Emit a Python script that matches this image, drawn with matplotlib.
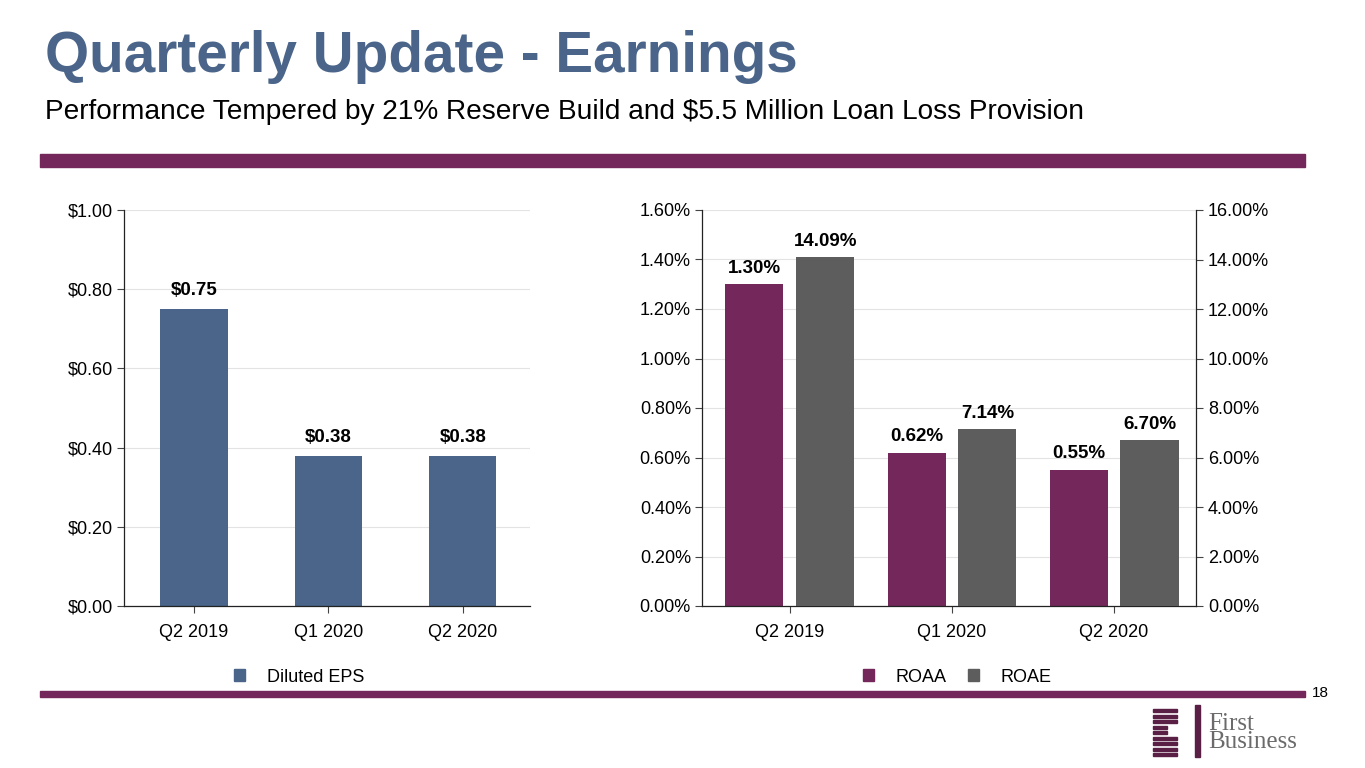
import matplotlib.pyplot as plt
import matplotlib.patches as mpatches
import numpy as np

plt.rcParams['font.family'] = ['Liberation Sans', 'DejaVu Sans']

quarters = ['Q2 2019', 'Q1 2020', 'Q2 2020']
eps = [0.75, 0.38, 0.38]
roaa = [1.30, 0.62, 0.55]
roae = [14.09, 7.14, 6.70]

BLUE = '#4a6589'
PURPLE = '#73275a'
GREY = '#5d5d5d'
GRID = '#e3e3e3'
W, H = 1365, 768


def px_axes(fig, x0, y0, x1, y1):
    # pixel box (top-left origin) -> figure axes
    return fig.add_axes([x0 / W, 1 - y1 / H, (x1 - x0) / W, (y1 - y0) / H])


def style_axes(ax):
    ax.grid(axis='y', color=GRID, linewidth=0.8)
    ax.set_axisbelow(True)
    ax.spines['top'].set_visible(False)
    ax.spines['right'].set_visible(False)
    for s in ('left', 'bottom'):
        ax.spines[s].set_color('#222222')
        ax.spines[s].set_linewidth(0.9)
    ax.tick_params(axis='both', labelsize=13, color='#444444', length=5,
                   width=0.8, pad=3)
    ax.tick_params(axis='x', pad=8)


fig = plt.figure(figsize=(13.65, 7.68), dpi=100)

# header
fig.text(45 / W, 1 - 57 / H, 'Quarterly Update - Earnings', fontsize=40.8,
         fontweight='bold', color='#4a6589', va='center', ha='left')
fig.text(45 / W, 1 - 112 / H,
         'Performance Tempered by 21% Reserve Build and $5.5 Million Loan Loss Provision',
         fontsize=20.2, color='black', va='center', ha='left')
fig.patches.append(mpatches.Rectangle((40 / W, 1 - 167 / H), 1265 / W, 13 / H,
                                      transform=fig.transFigure, color=PURPLE))
fig.patches.append(mpatches.Rectangle((40 / W, 1 - 697 / H), 1265 / W, 6 / H,
                                      transform=fig.transFigure, color=PURPLE))
fig.text(1320 / W, 1 - 693 / H, '18', fontsize=11, ha='center', va='center')

# left chart: diluted EPS
ax1 = px_axes(fig, 124, 210, 530, 606)
style_axes(ax1)
x = np.arange(len(quarters))
ax1.bar(x, eps, width=0.5, color=BLUE)
ax1.set_xlim(-0.52, 2.5)
ax1.set_ylim(0, 1.0)
ax1.set_yticks(np.arange(0, 1.01, 0.2))
ax1.set_yticklabels([f'${v:.2f}' for v in np.arange(0, 1.01, 0.2)])
ax1.set_xticks(x)
ax1.set_xticklabels(quarters)
for xi, v in zip(x, eps):
    ax1.text(xi, v + 0.025, f'${v:.2f}', ha='center', va='bottom',
             fontsize=13.5, fontweight='bold')

# right chart: ROAA / ROAE
ax2 = px_axes(fig, 702, 210, 1196, 606)
style_axes(ax2)
ax2.set_xlim(-0.543, 2.506)
ax2.set_ylim(0, 1.6)
ax2.set_yticks(np.arange(0, 1.61, 0.2))
ax2.set_yticklabels([f'{v:.2f}%' for v in np.arange(0, 1.61, 0.2)])
ax2.set_xticks(x)
ax2.set_xticklabels(quarters)
ax3 = ax2.twinx()
ax3.set_ylim(0, 16)
ax3.set_yticks(np.arange(0, 16.1, 2))
ax3.set_yticklabels([f'{v:.2f}%' for v in np.arange(0, 16.1, 2)])
ax3.tick_params(axis='y', labelsize=13, color='#444444', length=5, width=0.8)
for s in ('top', 'left', 'bottom'):
    ax3.spines[s].set_visible(False)
ax3.spines['right'].set_color('#222222')
ax3.spines['right'].set_linewidth(0.9)

off = 0.219
bw = 0.358
ax2.bar(x - off, roaa, width=bw, color=PURPLE)
ax3.bar(x + off, roae, width=bw, color=GREY)
for xi, v in zip(x, roaa):
    ax2.text(xi - off, v + 0.03, f'{v:.2f}%', ha='center', va='bottom',
             fontsize=13.5, fontweight='bold')
for xi, v in zip(x, roae):
    ax3.text(xi + off, v + 0.3, f'{v:.2f}%', ha='center', va='bottom',
             fontsize=13.5, fontweight='bold')

# legends
fig.legend(handles=[mpatches.Patch(color=BLUE, label='Diluted EPS')],
           loc='center left', bbox_to_anchor=(218 / W, 1 - 677 / H),
           frameon=False, fontsize=13, handlelength=0.6, handleheight=0.6,
           handletextpad=1.2)
fig.legend(handles=[mpatches.Patch(color=PURPLE, label='ROAA'),
                    mpatches.Patch(color=GREY, label='ROAE')],
           loc='center left', bbox_to_anchor=(847 / W, 1 - 677 / H),
           frameon=False, fontsize=13, handlelength=0.6, handleheight=0.6,
           handletextpad=1.2, ncol=2, columnspacing=1.2)

# logo, roughly
LOGO = '#5a1f45'
for i in range(9):
    y = 1 - (712 + i * 5.5) / H
    wid = 14 if i in (3, 4) else 24
    fig.patches.append(mpatches.Rectangle((1153 / W, y), wid / W, 3 / H,
                                          transform=fig.transFigure, color=LOGO))
fig.patches.append(mpatches.Rectangle((1195 / W, 1 - 757 / H), 5 / W, 52 / H,
                                      transform=fig.transFigure, color=LOGO))
fig.text(1208 / W, 1 - 733 / H, 'First\nBusiness', fontsize=18,
         family='Liberation Serif', color='#6b6b6b', va='center', ha='left',
         linespacing=0.8)

fig.savefig('out.png', dpi=100)
